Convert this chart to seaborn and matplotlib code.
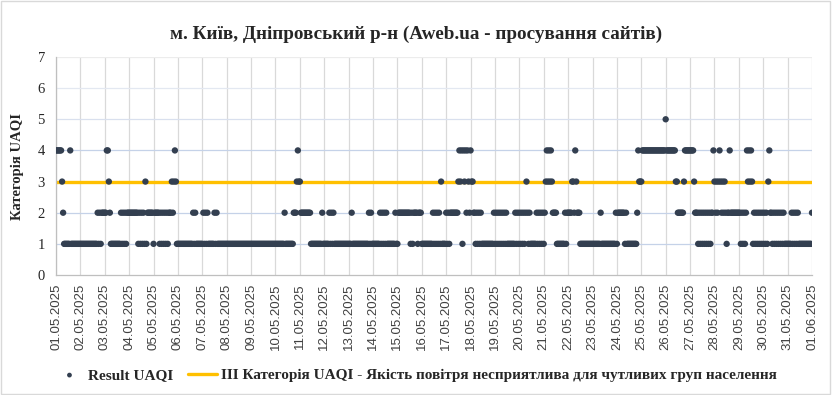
import pandas as pd
import seaborn as sns
import matplotlib.pyplot as plt
from matplotlib.patches import Rectangle

# hourly UAQI category, one string per day (01.05 ... 31.05), 24 hours each
hourly_categories = [
    "444444321111114111111111",
    "111111111111111112121222",
    "224432111111111121212122",
    "222222222121212131222222",
    "122222121212121222323431",
    "111111111111111212111111",
    "121212111111212111111111",
    "111111111111111111111111",
    "111111111111111111111111",
    "111111111211111111222343",
    "322222222221111111111121",
    "111112121211111111111111",
    "111211111111111111112121",
    "111111121212121111111121",
    "122222222222212122221222",
    "111111111112121212131111",
    "212122222222343414342432",
    "433221212121111111111112",
    "121212121212111111112121",
    "212121232121111112121212",
    "123434343222211111111212",
    "222233243222111111111111",
    "111111112111111111111112",
    "122222221211111111112433",
    "344444444444444444444444",
    "544444444433222222344444",
    "444432221212121212121224",
    "323234323232122422222222",
    "221212124343431212121212",
    "121213422121212121212111",
    "111121212121111111111111",
]
last_value = 2  # 01.06.2025 00:00

threshold = 3
day_labels = [f"{d:02d}.05.2025" for d in range(1, 32)] + ["01.06.2025"]

title = "м. Київ, Дніпровський р-н (Aweb.ua - просування сайтів)"
series_name = "Result UAQI"
threshold_name = "ІІІ Категорія UAQI - Якість повітря несприятлива для чутливих груп населення"

values = [int(c) for day in hourly_categories for c in day] + [last_value]
df = pd.DataFrame({"day": [h / 24 for h in range(len(values))], "uaqi": values})
df_line = pd.DataFrame({"day": [0, len(day_labels) - 1], "level": [threshold, threshold]})

sns.set_style("white")
plt.rcParams["font.family"] = ["Liberation Serif", "DejaVu Serif"]

fig = plt.figure(figsize=(8.32, 3.95), dpi=100)
ax = fig.add_axes([56 / 832, 1 - 275 / 395, 756 / 832, 218 / 395])

# grid
for d in range(len(day_labels)):
    ax.axvline(d, color="#d9d9d9", lw=0.9, zorder=0)
grid_cols = {1: "#c5d2e8", 2: "#c5d2e8", 3: "#c5d2e8", 4: "#c5d2e8",
             5: "#d9e0ee", 6: "#e3e8f1", 7: "#ececec"}
for y, c in grid_cols.items():
    ax.axhline(y, color=c, lw=0.9, zorder=0)

sns.lineplot(data=df_line, x="day", y="level", color="#ffc000", lw=2.4,
             ax=ax, zorder=2, label=threshold_name)
sns.scatterplot(data=df, x="day", y="uaqi", color="#333f50", s=21,
                edgecolor="none", ax=ax, zorder=3, label=series_name)

ax.set_xlim(0, len(day_labels) - 1)
ax.set_ylim(0, 7)
ax.set_xticks(range(len(day_labels)))
ax.set_xticklabels(day_labels, rotation=90, family="Liberation Sans",
                   fontsize=9.5, color="#404040")
ax.set_yticks(range(8))
ax.set_yticklabels([str(i) for i in range(8)], fontsize=10.5, color="#262626")
ax.tick_params(axis="x", length=4, color="#bfbfbf", pad=2)
ax.tick_params(axis="y", length=0, pad=8)
ax.set_xlabel("")
ax.set_ylabel("Категорія UAQI", fontsize=10.5, fontweight="bold", labelpad=10)

for side in ["top", "right"]:
    ax.spines[side].set_visible(False)
for side in ["left", "bottom"]:
    ax.spines[side].set_color("#bfbfbf")
    ax.spines[side].set_linewidth(0.9)

fig.suptitle(title, y=0.935, fontsize=13.8, fontweight="bold")

handles, labels = ax.get_legend_handles_labels()
order = [labels.index(series_name), labels.index(threshold_name)]
ax.legend([handles[i] for i in order], [labels[i] for i in order],
          loc="center", bbox_to_anchor=(0.5, 0.05), bbox_transform=fig.transFigure,
          ncol=2, frameon=False, prop={"weight": "bold", "size": 11},
          handlelength=1.9, columnspacing=1.0, handletextpad=0.25, markerscale=0.75)

fig.patches.append(Rectangle((0.001, 0.002), 0.997, 0.996, transform=fig.transFigure,
                             fill=False, edgecolor="#d9d9d9", lw=1))

fig.savefig("out.png", dpi=100)
